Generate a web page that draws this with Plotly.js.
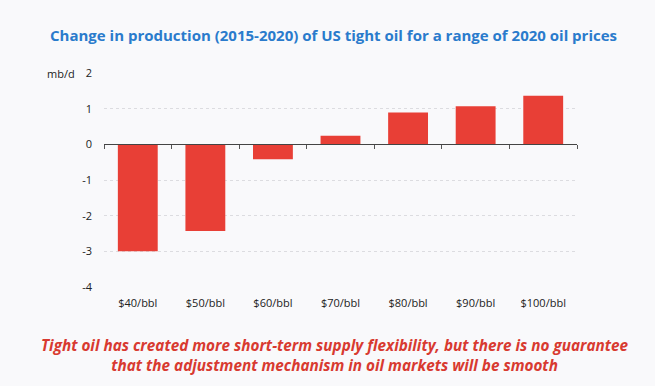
<!DOCTYPE html>
<html><head><meta charset="utf-8">
<script src="https://cdn.plot.ly/plotly-3.0.1.min.js"></script>
<style>html,body{margin:0;padding:0;background:#f9f9fb;}#chart{width:655px;height:386px;}</style>
</head><body><div id="chart"></div>
<script>
const categories = ["$40/bbl","$50/bbl","$60/bbl","$70/bbl","$80/bbl","$90/bbl","$100/bbl"];
const values = [-3.0, -2.43, -0.42, 0.24, 0.89, 1.07, 1.36];
const yTicks = [2, 1, 0, -1, -2, -3, -4];
const yRange = [-4, 2];
const titleText = "Change in production (2015-2020) of US tight oil for a range of 2020 oil prices";
const unitText = "mb/d";
const noteText = "Tight oil has created more short-term supply flexibility, but there is no guarantee<br>that the adjustment mechanism in oil markets will be smooth";

const zeroPos = (0 - yRange[0]) / (yRange[1] - yRange[0]);

const data = [
  {type:"bar", x:categories, y:values, marker:{color:"#e83f36"}, hoverinfo:"none"},
  {type:"bar", x:categories, y:values.map(()=>null), xaxis:"x2", showlegend:false, hoverinfo:"none"}
];
const layout = {
  width:655, height:386,
  paper_bgcolor:"#f9f9fb", plot_bgcolor:"#f9f9fb",
  margin:{l:104, r:78, t:73, b:99},
  showlegend:false,
  bargap:0.41,
  font:{family:"Open Sans, sans-serif", color:"#222", size:11},
  xaxis:{showline:false, showgrid:false, zeroline:false, ticks:"", ticklabelstandoff:8, tickfont:{size:11, color:"#222"}, fixedrange:true},
  xaxis2:{overlaying:"x", matches:"x", anchor:"free", position:zeroPos, side:"bottom", showline:true, linecolor:"#444", linewidth:1,
          ticks:"outside", ticklen:4, tickcolor:"#555", tickson:"boundaries", showticklabels:false, showgrid:false, zeroline:false},
  yaxis:{range:yRange, tickvals:yTicks, ticktext:yTicks.map(String), showgrid:true, gridcolor:"#dcdce0", griddash:"dot", gridwidth:1,
         zeroline:false, showline:false, ticks:"", ticklabelstandoff:11, tickfont:{size:11, color:"#222"}},
  annotations:[
    {text:"<b>"+titleText+"</b>", xref:"paper", yref:"paper", x:0.5, xanchor:"center", xshift:-7, y:1, yanchor:"bottom", yshift:26, showarrow:false,
     font:{size:15, color:"#2a7bcc", family:"Open Sans, sans-serif"}},
    {text:unitText, xref:"paper", yref:"paper", x:0, xanchor:"right", xshift:-27, y:1, yanchor:"middle", showarrow:false,
     font:{size:11, color:"#222"}},
    {text:"<b><i>"+noteText+"</i></b>", xref:"paper", yref:"paper", x:0.5, xanchor:"center", xshift:-6, y:0, yanchor:"top", yshift:-46, showarrow:false,
     font:{size:15.3, color:"#d83a30", family:"Open Sans, sans-serif"}}
  ]
};
Plotly.newPlot("chart", data, layout, {displayModeBar:false, staticPlot:true});
</script></body></html>
